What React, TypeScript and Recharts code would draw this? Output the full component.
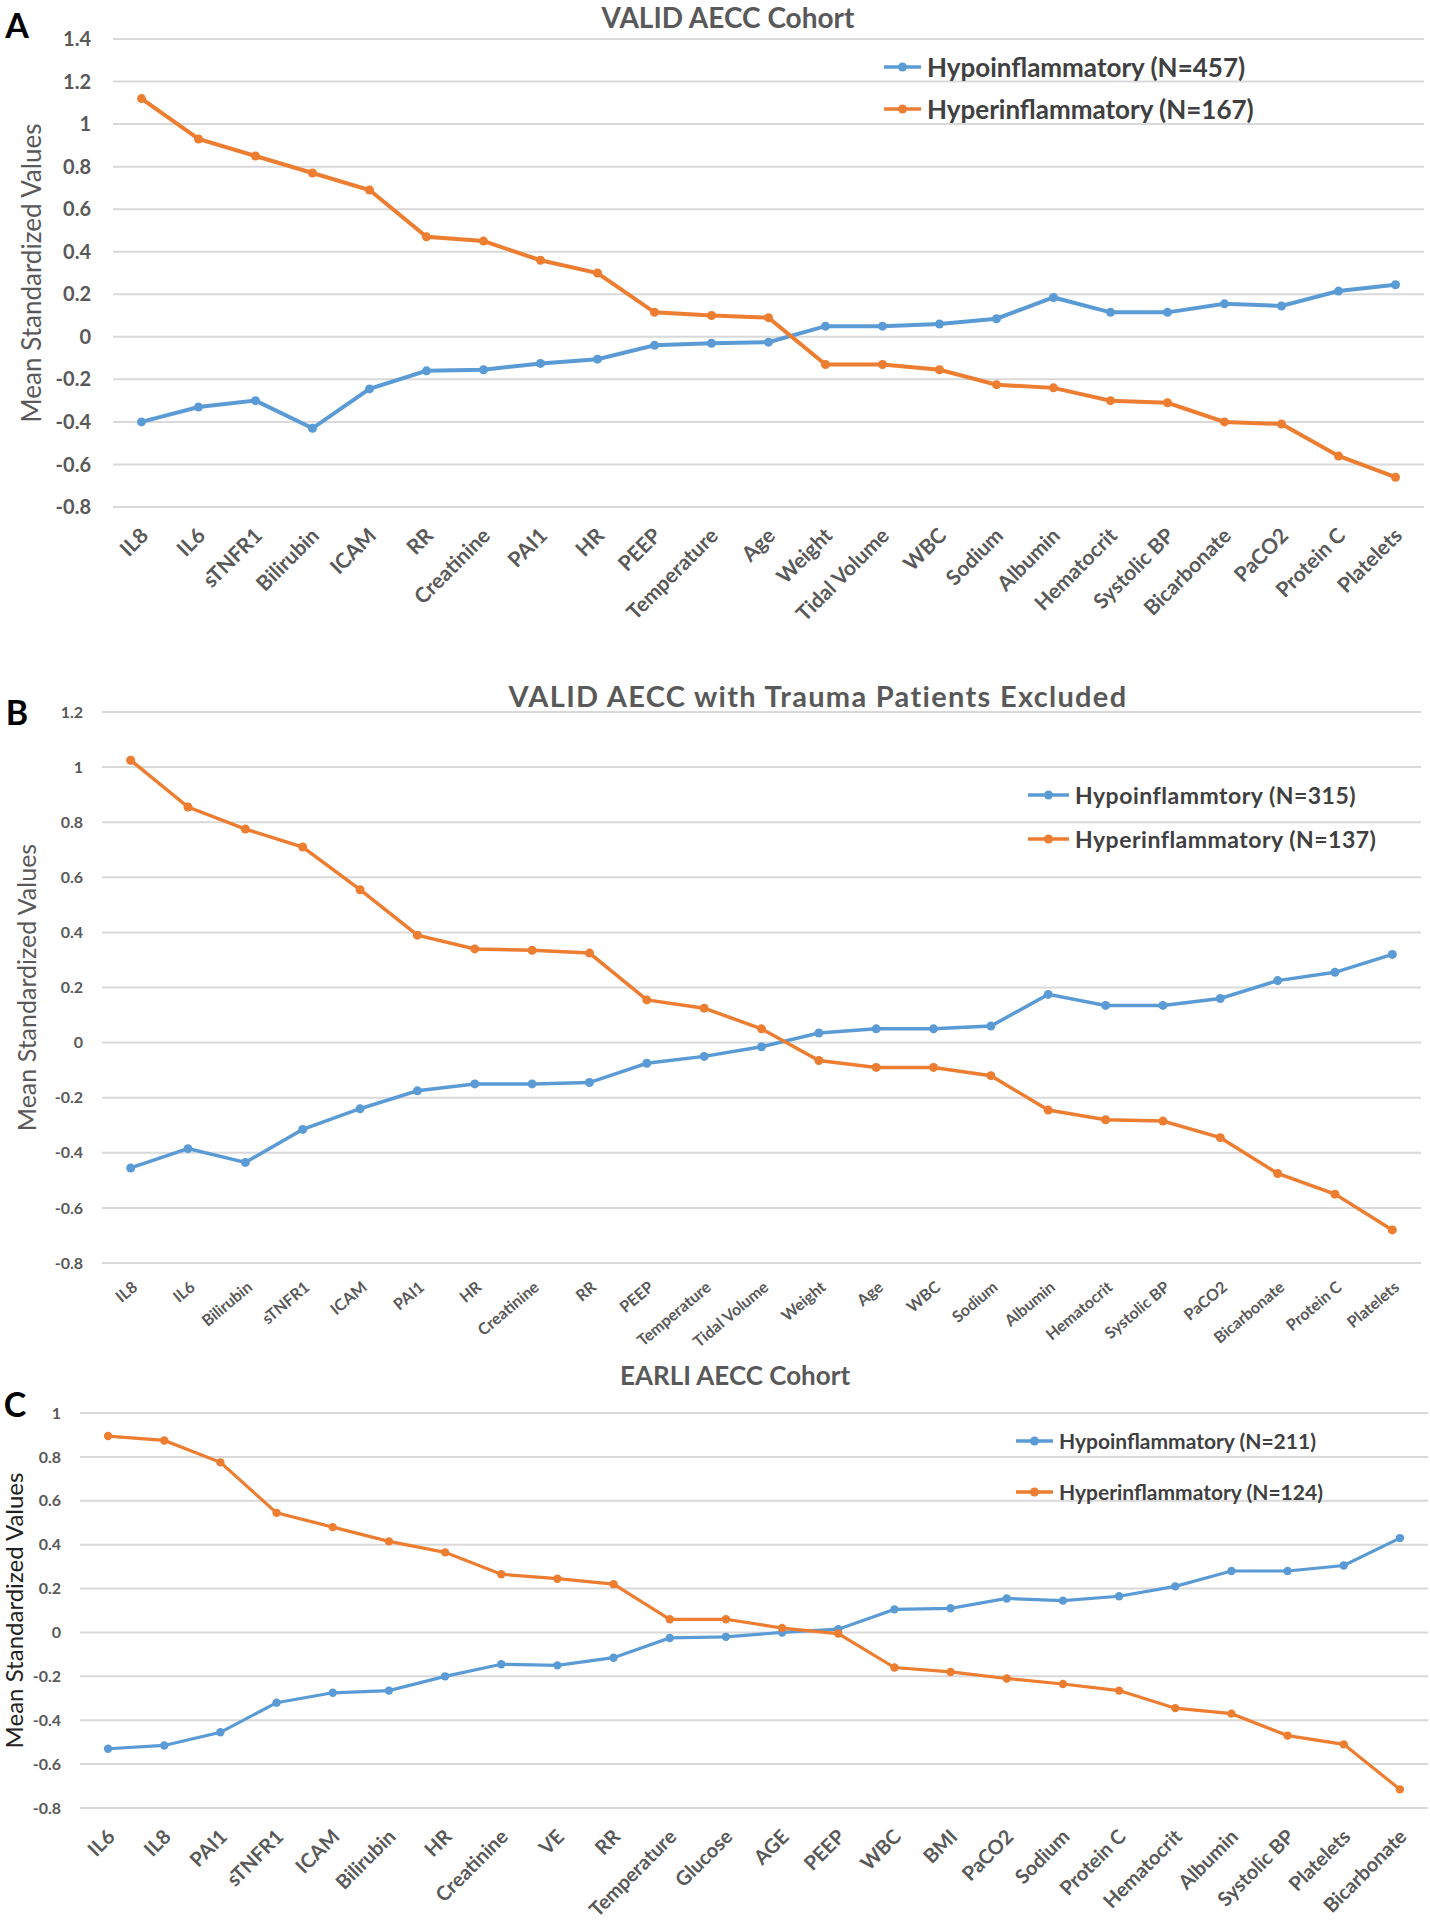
import React from "react";
import {
  LineChart,
  Line,
  XAxis,
  YAxis,
  CartesianGrid,
  Legend,
  Label,
} from "recharts";

const BLUE = "#5b9bd5";
const ORANGE = "#ed7d31";
const FONT = "Lato, Carlito, 'Liberation Sans', sans-serif";

// Panel A - VALID AECC Cohort
const catsA = ["IL8", "IL6", "sTNFR1", "Bilirubin", "ICAM", "RR", "Creatinine", "PAI1", "HR", "PEEP", "Temperature", "Age", "Weight", "Tidal Volume", "WBC", "Sodium", "Albumin", "Hematocrit", "Systolic BP", "Bicarbonate", "PaCO2", "Protein C", "Platelets"];
const hypoA = [-0.4, -0.33, -0.3, -0.43, -0.245, -0.16, -0.155, -0.125, -0.105, -0.04, -0.03, -0.025, 0.05, 0.05, 0.06, 0.085, 0.185, 0.115, 0.115, 0.155, 0.145, 0.215, 0.245];
const hyperA = [1.12, 0.93, 0.85, 0.77, 0.69, 0.47, 0.45, 0.36, 0.3, 0.115, 0.1, 0.09, -0.13, -0.13, -0.155, -0.225, -0.24, -0.3, -0.31, -0.4, -0.41, -0.56, -0.66];
const ticksA = [1.4, 1.2, 1, 0.8, 0.6, 0.4, 0.2, 0, -0.2, -0.4, -0.6, -0.8];
const namesA = ["Hypoinflammatory (N=457)", "Hyperinflammatory (N=167)"];

// Panel B - trauma patients excluded
const catsB = ["IL8", "IL6", "Bilirubin", "sTNFR1", "ICAM", "PAI1", "HR", "Creatinine", "RR", "PEEP", "Temperature", "Tidal Volume", "Weight", "Age", "WBC", "Sodium", "Albumin", "Hematocrit", "Systolic BP", "PaCO2", "Bicarbonate", "Protein C", "Platelets"];
const hypoB = [-0.455, -0.385, -0.435, -0.315, -0.24, -0.175, -0.15, -0.15, -0.145, -0.075, -0.05, -0.015, 0.035, 0.05, 0.05, 0.06, 0.175, 0.135, 0.135, 0.16, 0.225, 0.255, 0.32];
const hyperB = [1.025, 0.855, 0.775, 0.71, 0.555, 0.39, 0.34, 0.335, 0.325, 0.155, 0.125, 0.05, -0.065, -0.09, -0.09, -0.12, -0.245, -0.28, -0.285, -0.345, -0.475, -0.55, -0.68];
const ticksB = [1.2, 1, 0.8, 0.6, 0.4, 0.2, 0, -0.2, -0.4, -0.6, -0.8];
const namesB = ["Hypoinflammtory (N=315)", "Hyperinflammatory (N=137)"];

// Panel C - EARLI AECC Cohort
const catsC = ["IL6", "IL8", "PAI1", "sTNFR1", "ICAM", "Bilirubin", "HR", "Creatinine", "VE", "RR", "Temperature", "Glucose", "AGE", "PEEP", "WBC", "BMI", "PaCO2", "Sodium", "Protein C", "Hematocrit", "Albumin", "Systolic BP", "Platelets", "Bicarbonate"];
const hypoC = [-0.53, -0.515, -0.455, -0.32, -0.275, -0.265, -0.2, -0.145, -0.15, -0.115, -0.025, -0.02, 0, 0.015, 0.105, 0.11, 0.155, 0.145, 0.165, 0.21, 0.28, 0.28, 0.305, 0.43];
const hyperC = [0.895, 0.875, 0.775, 0.545, 0.48, 0.415, 0.365, 0.265, 0.245, 0.22, 0.06, 0.06, 0.02, -0.005, -0.16, -0.18, -0.21, -0.235, -0.265, -0.345, -0.37, -0.47, -0.51, -0.715];
const ticksC = [1, 0.8, 0.6, 0.4, 0.2, 0, -0.2, -0.4, -0.6, -0.8];
const namesC = ["Hypoinflammatory (N=211)", "Hyperinflammatory (N=124)"];

function makeRows(cats: string[], hypo: number[], hyper: number[]) {
  return cats.map((name, i) => ({ name, hypo: hypo[i], hyper: hyper[i] }));
}

function AngledTick(props: any) {
  const { x, y, payload, angle, fontSize, dx, dy } = props;
  return (
    <text
      x={0}
      y={0}
      transform={`translate(${x + dx},${y + dy}) rotate(${angle})`}
      textAnchor="end"
      fill="#595959"
      fontSize={fontSize}
      fontWeight="bold"
      fontFamily={FONT}
    >
      {payload.value}
    </text>
  );
}

function LegendBox(props: any) {
  const { payload, order, fontSize, rowHeight, iconWidth, gap, spacing } = props;
  // keep the series order (hypo first), recharts sorts by name otherwise
  const items = [...(payload || [])].sort(
    (a: any, b: any) => order.indexOf(a.value) - order.indexOf(b.value)
  );
  return (
    <div style={{ fontFamily: FONT }}>
      {items.map((item: any) => (
        <div
          key={item.value}
          style={{ display: "flex", alignItems: "center", height: rowHeight }}
        >
          <svg width={iconWidth} height={14} style={{ marginRight: gap }}>
            <line x1={0} y1={7} x2={iconWidth} y2={7} stroke={item.color} strokeWidth={3.5} />
            <circle cx={iconWidth / 2} cy={7} r={4.5} fill={item.color} />
          </svg>
          <span
            style={{
              fontSize,
              fontWeight: "bold",
              color: "#404040",
              whiteSpace: "nowrap",
              letterSpacing: spacing,
            }}
          >
            {item.value}
          </span>
        </div>
      ))}
    </div>
  );
}

interface PanelProps {
  top: number;
  height: number;
  rows: any[];
  names: string[];
  ticks: number[];
  margin: { top: number; right: number; bottom: number; left: number };
  yWidth: number;
  xHeight: number;
  yFont: number;
  yTickMargin: number;
  yLabelX: number;
  yLabelFont: number;
  yLabelColor: string;
  xFont: number;
  xAngle: number;
  xDx: number;
  xDy: number;
  legendLeft: number;
  legendTop: number;
  legendFont: number;
  legendSpacing: number;
  legendRow: number;
  legendIcon: number;
  lineWidth: number;
  dotR: number;
}

function Panel(p: PanelProps) {
  return (
    <div style={{ position: "absolute", left: 0, top: p.top }}>
      <LineChart width={1430} height={p.height} data={p.rows} margin={p.margin}>
        <CartesianGrid vertical={false} stroke="#d9d9d9" strokeWidth={2} />
        <XAxis
          dataKey="name"
          scale="band"
          interval={0}
          height={p.xHeight}
          axisLine={false}
          tickLine={false}
          tickSize={0}
          tickMargin={0}
          tick={(tp: any) => (
            <AngledTick {...tp} angle={p.xAngle} fontSize={p.xFont} dx={p.xDx} dy={p.xDy} />
          )}
        />
        <YAxis
          domain={[p.ticks[p.ticks.length - 1], p.ticks[0]]}
          ticks={p.ticks}
          interval={0}
          width={p.yWidth}
          axisLine={false}
          tickLine={false}
          tickSize={0}
          tickMargin={p.yTickMargin}
          tick={{ fill: "#595959", fontSize: p.yFont, fontWeight: "bold", fontFamily: FONT }}
        >
          <Label
            value="Mean Standardized Values"
            angle={-90}
            position="insideLeft"
            offset={p.yLabelX}
            style={{ textAnchor: "middle", fontSize: p.yLabelFont, fill: p.yLabelColor, fontFamily: FONT }}
          />
        </YAxis>
        <Legend
          layout="horizontal"
          verticalAlign="middle"
          align="center"
          wrapperStyle={{ left: p.legendLeft, top: p.legendTop, width: 420, height: "auto" }}
          content={(lp: any) => (
            <LegendBox
              payload={lp.payload}
              order={p.names}
              fontSize={p.legendFont}
              spacing={p.legendSpacing}
              rowHeight={p.legendRow}
              iconWidth={p.legendIcon}
              gap={6}
            />
          )}
        />
        <Line
          dataKey="hypo"
          name={p.names[0]}
          stroke={BLUE}
          strokeWidth={p.lineWidth}
          dot={{ r: p.dotR, fill: BLUE, stroke: BLUE, strokeWidth: 0 }}
          isAnimationActive={false}
        />
        <Line
          dataKey="hyper"
          name={p.names[1]}
          stroke={ORANGE}
          strokeWidth={p.lineWidth}
          dot={{ r: p.dotR, fill: ORANGE, stroke: ORANGE, strokeWidth: 0 }}
          isAnimationActive={false}
        />
      </LineChart>
    </div>
  );
}

const textStyle: React.CSSProperties = {
  position: "absolute",
  fontFamily: FONT,
  fontWeight: "bold",
  whiteSpace: "nowrap",
  transform: "translate(-50%, -50%)",
  lineHeight: 1,
};

export default function App() {
  return (
    <div
      style={{
        position: "absolute",
        left: 0,
        top: 0,
        width: 1430,
        height: 1920,
        background: "#fff",
        overflow: "hidden",
        fontFamily: FONT,
      }}
    >
      <Panel
        top={0}
        height={650}
        rows={makeRows(catsA, hypoA, hyperA)}
        names={namesA}
        ticks={ticksA}
        margin={{ top: 39, right: 6, bottom: 3, left: 0 }}
        yWidth={113}
        xHeight={140}
        yFont={20}
        yTickMargin={22}
        yLabelX={32}
        yLabelFont={26}
        yLabelColor="#595959"
        xFont={21}
        xAngle={-45}
        xDx={8}
        xDy={30}
        legendLeft={884}
        legendTop={46}
        legendFont={26}
        legendSpacing={0}
        legendRow={42}
        legendIcon={37}
        lineWidth={4}
        dotR={4.5}
      />
      <Panel
        top={660}
        height={700}
        rows={makeRows(catsB, hypoB, hyperB)}
        names={namesB}
        ticks={ticksB}
        margin={{ top: 52, right: 9, bottom: 2, left: 0 }}
        yWidth={102}
        xHeight={95}
        yFont={16}
        yTickMargin={19}
        yLabelX={27}
        yLabelFont={25}
        yLabelColor="#595959"
        xFont={16}
        xAngle={-40}
        xDx={8}
        xDy={26}
        legendLeft={1028}
        legendTop={113}
        legendFont={23}
        legendSpacing={0.5}
        legendRow={44}
        legendIcon={41}
        lineWidth={3.5}
        dotR={4.5}
      />
      <Panel
        top={1350}
        height={570}
        rows={makeRows(catsC, hypoC, hyperC)}
        names={namesC}
        ticks={ticksC}
        margin={{ top: 63, right: 2, bottom: 2, left: 0 }}
        yWidth={80}
        xHeight={110}
        yFont={16}
        yTickMargin={19}
        yLabelX={14}
        yLabelFont={24}
        yLabelColor="#222"
        xFont={20}
        xAngle={-45}
        xDx={8}
        xDy={30}
        legendLeft={1016}
        legendTop={65}
        legendFont={21}
        legendSpacing={0}
        legendRow={51}
        legendIcon={37}
        lineWidth={3.2}
        dotR={4.2}
      />

      <div style={{ ...textStyle, left: 728, top: 17, fontSize: 28, color: "#595959" }}>VALID AECC Cohort</div>
      <div style={{ ...textStyle, left: 818, top: 695, fontSize: 29, letterSpacing: 1.3, color: "#595959" }}>
        VALID AECC with Trauma Patients Excluded
      </div>
      <div style={{ ...textStyle, left: 735, top: 1375, fontSize: 26, color: "#595959" }}>EARLI AECC Cohort</div>

      <div style={{ ...textStyle, left: 17, top: 25, fontSize: 34, color: "#000" }}>A</div>
      <div style={{ ...textStyle, left: 17, top: 712, fontSize: 34, color: "#000" }}>B</div>
      <div style={{ ...textStyle, left: 15, top: 1404, fontSize: 34, color: "#000" }}>C</div>
    </div>
  );
}
